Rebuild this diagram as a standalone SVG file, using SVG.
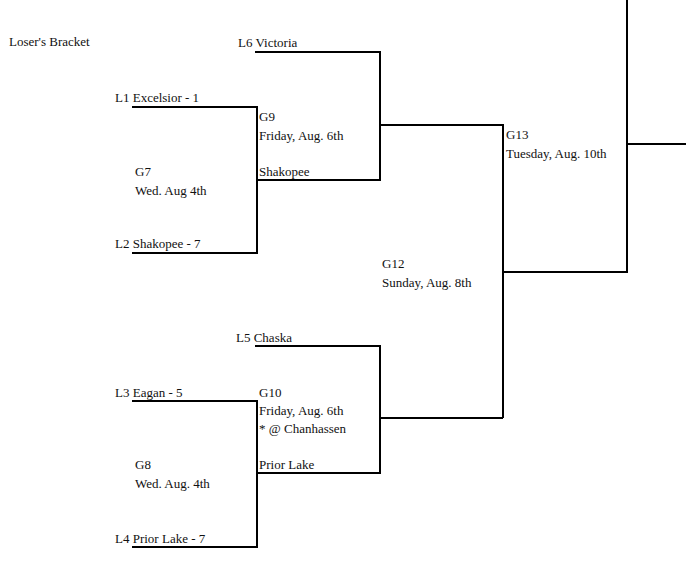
<svg xmlns="http://www.w3.org/2000/svg" width="686" height="579" viewBox="0 0 686 579">
<style>
text{font-family:"Liberation Serif",serif;font-size:13px;fill:#111}
.c path{fill:none;stroke:#000;stroke-width:2}
</style>
<rect width="686" height="579" fill="#fff"/>
<g class="c" id="connectors">
<path d="M132 107H257V253H132"/>
<path d="M257 180H380V52H255"/>
<path d="M380 125H503V418"/>
<path d="M132 401H257V547H132"/>
<path d="M257 473H380V346H255"/>
<path d="M380 418H503"/>
<path d="M503 272H627V0"/>
<path d="M627 144H686"/>
</g>
<g id="title"><text x="9" y="46">Loser's Bracket</text></g>
<g id="L6"><text x="238" y="47">L6  Victoria</text></g>
<g id="L1"><text x="115" y="102">L1  Excelsior - 1</text></g>
<g id="L2"><text x="115" y="248">L2  Shakopee - 7</text></g>
<g id="G7"><text x="135" y="176">G7</text><text x="135" y="195">Wed. Aug 4th</text></g>
<g id="G9"><text x="259" y="121">G9</text><text x="259" y="140">Friday, Aug. 6th</text><text x="259" y="176">Shakopee</text></g>
<g id="G13"><text x="506" y="139">G13</text><text x="506" y="158">Tuesday, Aug. 10th</text></g>
<g id="G12"><text x="382" y="268">G12</text><text x="382" y="287">Sunday, Aug. 8th</text></g>
<g id="L5"><text x="236" y="342">L5  Chaska</text></g>
<g id="L3"><text x="115" y="397">L3  Eagan - 5</text></g>
<g id="G10"><text x="259" y="397">G10</text><text x="259" y="415">Friday, Aug. 6th</text><text x="259" y="433">* @ Chanhassen</text><text x="259" y="469">Prior Lake</text></g>
<g id="G8"><text x="135" y="469">G8</text><text x="135" y="488">Wed. Aug. 4th</text></g>
<g id="L4"><text x="115" y="543">L4  Prior Lake - 7</text></g>
</svg>
